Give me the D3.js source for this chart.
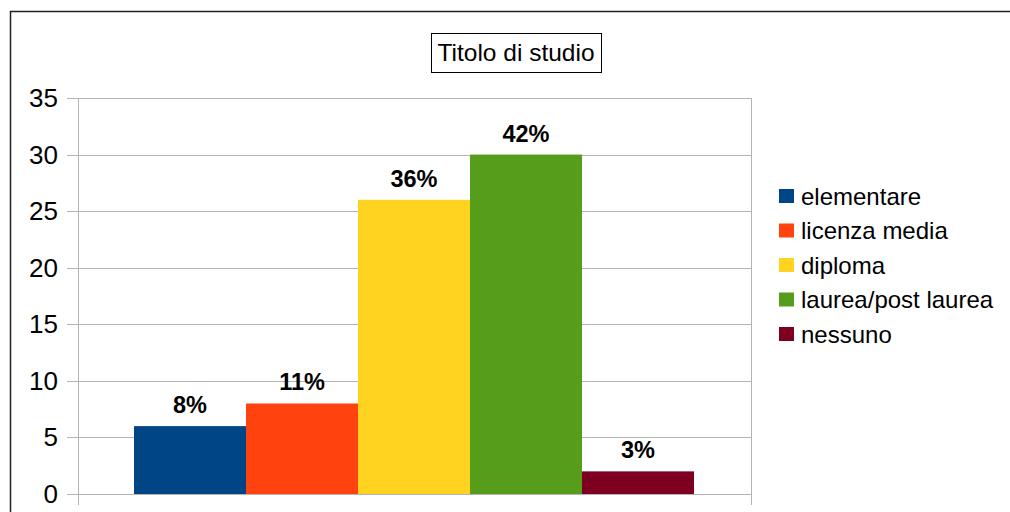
<!DOCTYPE html>
<html>
<head>
<meta charset="utf-8">
<script src="https://cdn.jsdelivr.net/npm/d3@7"></script>
<style>
  body { margin: 0; background: #fff; }
  svg { font-family: "Liberation Sans", Arial, sans-serif; }
</style>
</head>
<body>
<div id="chart"></div>
<script>
// Data
const categories = ["elementare", "licenza media", "diploma", "laurea/post laurea", "nessuno"];
const values = [6, 8, 26, 30, 2];
const labels = ["8%", "11%", "36%", "42%", "3%"];
const colors = ["#004586", "#ff420e", "#ffd320", "#579d1c", "#7e0021"];
const yTicks = [0, 5, 10, 15, 20, 25, 30, 35];
const title = "Titolo di studio";

const width = 1010;
const height = 512;
const plot = { left: 78, right: 751, top: 98, bottom: 494 };

const svg = d3
  .select("#chart")
  .append("svg")
  .attr("width", width)
  .attr("height", height);

// outer frame (cropped at right/bottom)
svg
  .append("rect")
  .attr("x", 10.5)
  .attr("y", 11.5)
  .attr("width", 1100)
  .attr("height", 600)
  .attr("fill", "none")
  .attr("stroke", "#222")
  .attr("stroke-width", 1.5);

const y = d3.scaleLinear().domain([0, 35]).range([plot.bottom, plot.top]);

// one category group holding all five bars
const x = d3
  .scaleBand()
  .domain(categories)
  .range([plot.left + 56, plot.right - 57]);

// grid lines + ticks
svg
  .append("g")
  .selectAll("line")
  .data(yTicks)
  .join("line")
  .attr("x1", plot.left - 11)
  .attr("x2", plot.right)
  .attr("y1", (d) => Math.round(y(d)) + 0.5)
  .attr("y2", (d) => Math.round(y(d)) + 0.5)
  .attr("stroke", "#b3b3b3")
  .attr("stroke-width", 1);

// vertical axis lines (left and right edge of category)
svg
  .append("g")
  .selectAll("line")
  .data([plot.left, plot.right])
  .join("line")
  .attr("x1", (d) => d + 0.5)
  .attr("x2", (d) => d + 0.5)
  .attr("y1", plot.top)
  .attr("y2", plot.bottom + 11)
  .attr("stroke", "#b3b3b3")
  .attr("stroke-width", 1);

// y tick labels
svg
  .append("g")
  .selectAll("text")
  .data(yTicks)
  .join("text")
  .attr("x", 58)
  .attr("y", (d) => y(d) + 9)
  .attr("text-anchor", "end")
  .attr("font-size", 26)
  .attr("fill", "#000")
  .text((d) => d);

// bars
svg
  .append("g")
  .selectAll("rect")
  .data(values)
  .join("rect")
  .attr("x", (d, i) => x(categories[i]))
  .attr("y", (d) => y(d))
  .attr("width", x.bandwidth())
  .attr("height", (d) => y(0) - y(d))
  .attr("fill", (d, i) => colors[i]);

// value labels
svg
  .append("g")
  .selectAll("text")
  .data(values)
  .join("text")
  .attr("x", (d, i) => x(categories[i]) + x.bandwidth() / 2)
  .attr("y", (d) => y(d) - 13)
  .attr("text-anchor", "middle")
  .attr("font-size", 23.5)
  .attr("font-weight", "bold")
  .attr("fill", "#000")
  .text((d, i) => labels[i]);

// title box
const tg = svg.append("g");
tg.append("rect")
  .attr("x", 431.5)
  .attr("y", 33.5)
  .attr("width", 170)
  .attr("height", 39)
  .attr("fill", "#fff")
  .attr("stroke", "#000")
  .attr("stroke-width", 1);
tg.append("text")
  .attr("x", 516)
  .attr("y", 61)
  .attr("text-anchor", "middle")
  .attr("font-size", 24.5)
  .text(title);

// legend
const legend = svg.append("g").attr("transform", "translate(779,196)");
categories.forEach((c, i) => {
  const g = legend.append("g").attr("transform", `translate(0,${i * 34.5})`);
  g.append("rect")
    .attr("x", 0)
    .attr("y", -7)
    .attr("width", 15)
    .attr("height", 14)
    .attr("fill", colors[i]);
  g.append("text")
    .attr("x", 22)
    .attr("y", 8.5)
    .attr("font-size", 24)
    .attr("fill", "#000")
    .text(c);
});
</script>
</body>
</html>
